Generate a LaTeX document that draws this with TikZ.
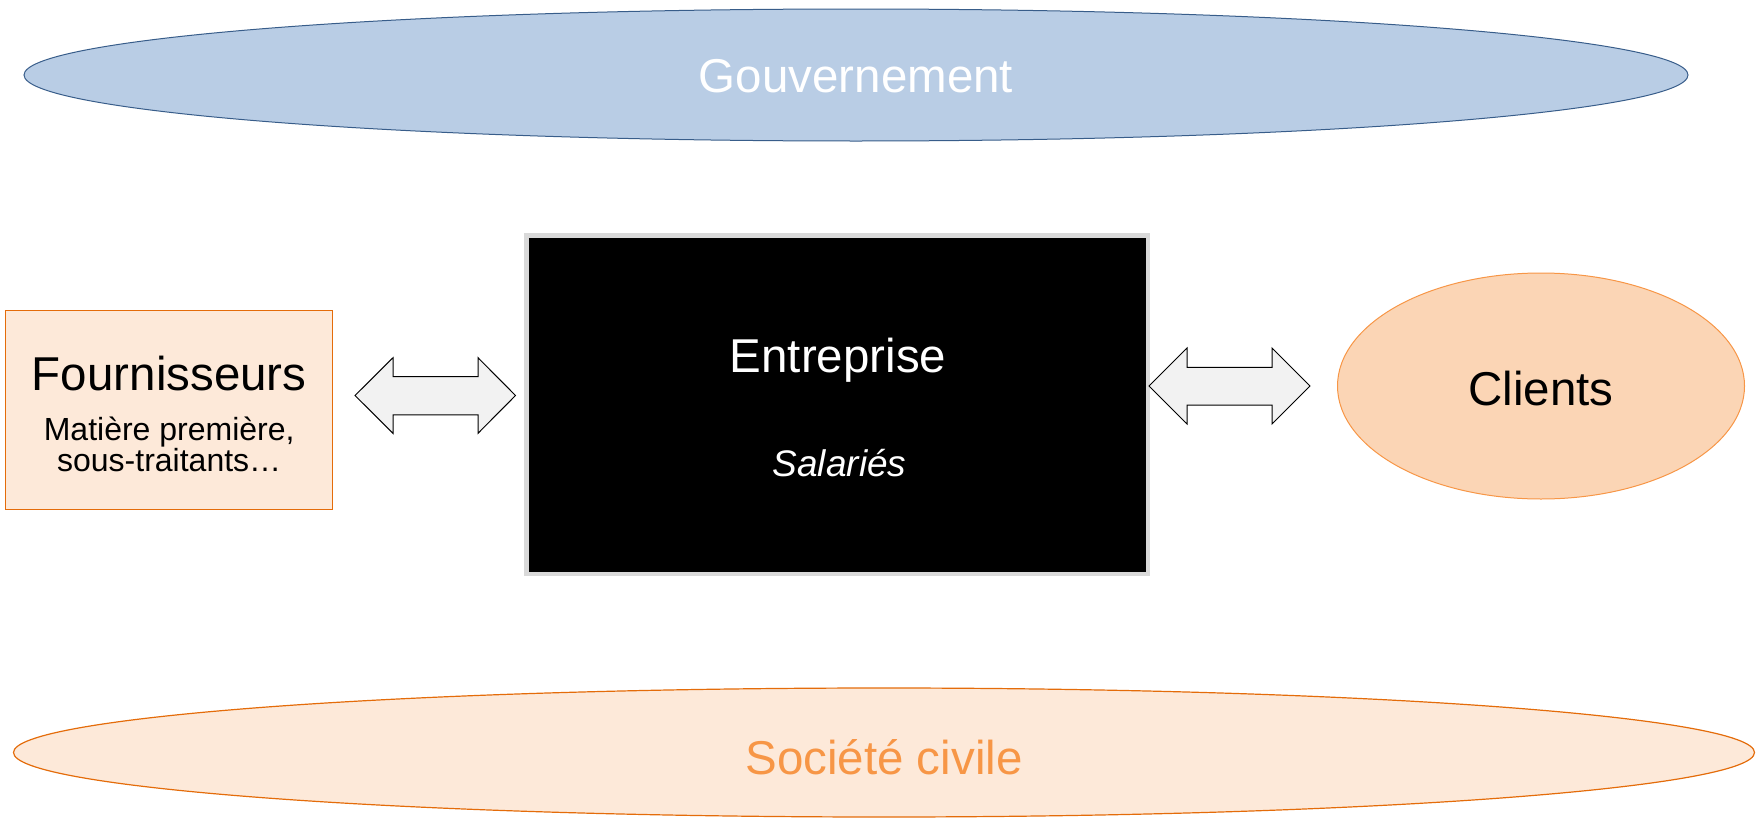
\documentclass[tikz,border=0pt]{standalone}
\usepackage{fontspec}
\setmainfont{Liberation Sans}
\usetikzlibrary{shapes.geometric}
\definecolor{govfill}{HTML}{B9CDE5}
\definecolor{govline}{HTML}{385D8A}
\definecolor{peach}{HTML}{FDE9D9}
\definecolor{orangeline}{HTML}{E46C0A}
\definecolor{clifill}{HTML}{FBD5B5}
\definecolor{cliline}{HTML}{F79646}
\definecolor{sctext}{HTML}{F79646}
\definecolor{entborder}{HTML}{D9D9D9}
\definecolor{arrfill}{HTML}{F2F2F2}
\tikzset{
  ell/.style={ellipse, inner sep=0pt},
  big/.style={font=\fontsize{47.5}{57}\selectfont, inner sep=0pt, anchor=base},
  small/.style={font=\fontsize{32}{37}\selectfont, inner sep=0pt, anchor=base},
  dblarrow/.style={fill=arrfill, draw=black, line width=1pt, line join=miter},
}
\begin{document}
\begin{tikzpicture}[x=1pt,y=-1pt]
\useasboundingbox (0,0) rectangle (1761,819);
% Gouvernement
\node[ell, fill=govfill, draw=govline, line width=1pt, minimum width=1664pt, minimum height=132pt] (gov) at (856,75) {};
\node[big, text=white] (govt) at (856,92.7) {Gouvernement};
% Societe civile
\node[ell, fill=peach, draw=orangeline, line width=1.2pt, minimum width=1741pt, minimum height=129pt] (soc) at (884,752.5) {};
\node[big, text=sctext] (soct) at (884,774) {Société civile};
% Fournisseurs
\node[rectangle, fill=peach, draw=orangeline, line width=1.3pt, minimum width=327pt, minimum height=198.6pt, inner sep=0pt] (four) at (169.2,410) {};
\node[big, text=black] (fourt) at (169.2,390) {Fournisseurs};
\node[small, text=black] (fours1) at (169.2,440) {Matière première,};
\node[small, text=black] (fours2) at (169.2,471) {sous-traitants…};
% Entreprise
\node[rectangle, fill=black, draw=entborder, line width=4.5pt, minimum width=621.5pt, minimum height=338.5pt, inner sep=0pt] (ent) at (837,404.5) {};
\node[big, text=white] (entt) at (838,372.3) {Entreprise};
\node[inner sep=0pt, anchor=base, text=white, font=\fontsize{37}{44}\selectfont\itshape] (sal) at (839.5,476.7) {Salariés};
% Clients
\node[ell, fill=clifill, draw=cliline, line width=1pt, minimum width=407pt, minimum height=226pt] (cli) at (1541,386) {};
\node[big, text=black] (clit) at (1541,405) {Clients};
% double arrows
\draw[dblarrow] (355,395.5) -- (393,357.7) -- (393,376.5) -- (478,376.5) -- (478,357.7) -- (515.5,395.5)
  -- (478,433.3) -- (478,414.8) -- (393,414.8) -- (393,433.3) -- cycle;
\draw[dblarrow] (1149,386) -- (1187,348) -- (1187,367.3) -- (1272,367.3) -- (1272,348) -- (1310,386)
  -- (1272,424) -- (1272,405) -- (1187,405) -- (1187,424) -- cycle;
\end{tikzpicture}
\end{document}
